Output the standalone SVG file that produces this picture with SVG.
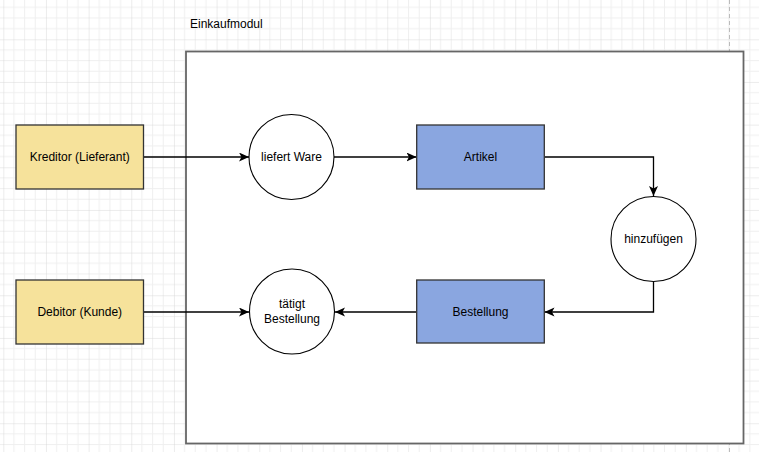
<svg xmlns="http://www.w3.org/2000/svg" width="759" height="452" viewBox="0 0 759 452">
<style>
text{font-family:"Liberation Sans",Arial,sans-serif;font-size:12px;fill:#000}
.c{text-anchor:middle;dominant-baseline:central}
.yel{fill:#f6e29b;stroke:#333;stroke-width:1.3}
.blu{fill:#8aa6e0;stroke:#333;stroke-width:1.3}
.circ{fill:#fff;stroke:#000;stroke-width:1.1}
.edge{fill:none;stroke:#000;stroke-width:1.3;marker-end:url(#arr)}
</style>
<defs>
<pattern id="grid" patternUnits="userSpaceOnUse" x="3.3" y="39.3" width="42.66" height="42.66">
<path d="M10.66 0V42.66M21.33 0V42.66M32 0V42.66M0 10.66H42.66M0 21.33H42.66M0 32H42.66" stroke="#efefef" stroke-width="1" fill="none"/>
<path d="M0 0V42.66M0 0H42.66" stroke="#d9d9d9" stroke-width="1" fill="none"/>
</pattern>
<marker id="arr" markerUnits="userSpaceOnUse" markerWidth="12" markerHeight="10" refX="10" refY="4.5" orient="auto">
<path d="M0 0L10 4.5L0 9L2.5 4.5Z" fill="#000"/>
</marker>
</defs>
<rect width="759" height="452" fill="#fff"/>
<rect width="759" height="452" fill="url(#grid)"/>
<line x1="729.5" y1="0" x2="729.5" y2="452" stroke="#bbb" stroke-width="1" stroke-dasharray="4 3"/>
<g id="container">
<text x="190" y="28">Einkaufmodul</text>
<rect x="186" y="51.5" width="557.5" height="392" fill="#fff" stroke="#666" stroke-width="1.8"/>
</g>
<g id="connectors">
<path class="edge" d="M143.5 157H249"/>
<path class="edge" d="M334 157H416.5"/>
<path class="edge" d="M544.5 157H653.5V196"/>
<path class="edge" d="M653.5 281.5V312H544.5"/>
<path class="edge" d="M416.5 312H335"/>
<path class="edge" d="M143.5 312H249"/>
</g>
<g id="kreditor"><rect class="yel" x="16" y="125" width="127.5" height="64"/><text class="c" x="79.75" y="157">Kreditor (Lieferant)</text></g>
<g id="debitor"><rect class="yel" x="16" y="280" width="127.5" height="64"/><text class="c" x="79.75" y="312">Debitor (Kunde)</text></g>
<g id="liefert"><circle class="circ" cx="291.5" cy="157" r="42.5"/><text class="c" x="291.5" y="157">liefert Ware</text></g>
<g id="artikel"><rect class="blu" x="416.7" y="125" width="127.6" height="64"/><text class="c" x="480.5" y="157">Artikel</text></g>
<g id="hinzufuegen"><circle class="circ" cx="653.5" cy="239" r="42.5"/><text class="c" x="653.5" y="239">hinzufügen</text></g>
<g id="bestellung"><rect class="blu" x="416.7" y="280" width="127.6" height="63"/><text class="c" x="480.5" y="312">Bestellung</text></g>
<g id="taetigt"><circle class="circ" cx="292" cy="311.5" r="42.5"/><text class="c" x="292" y="304">tätigt</text><text class="c" x="292" y="319">Bestellung</text></g>
</svg>
